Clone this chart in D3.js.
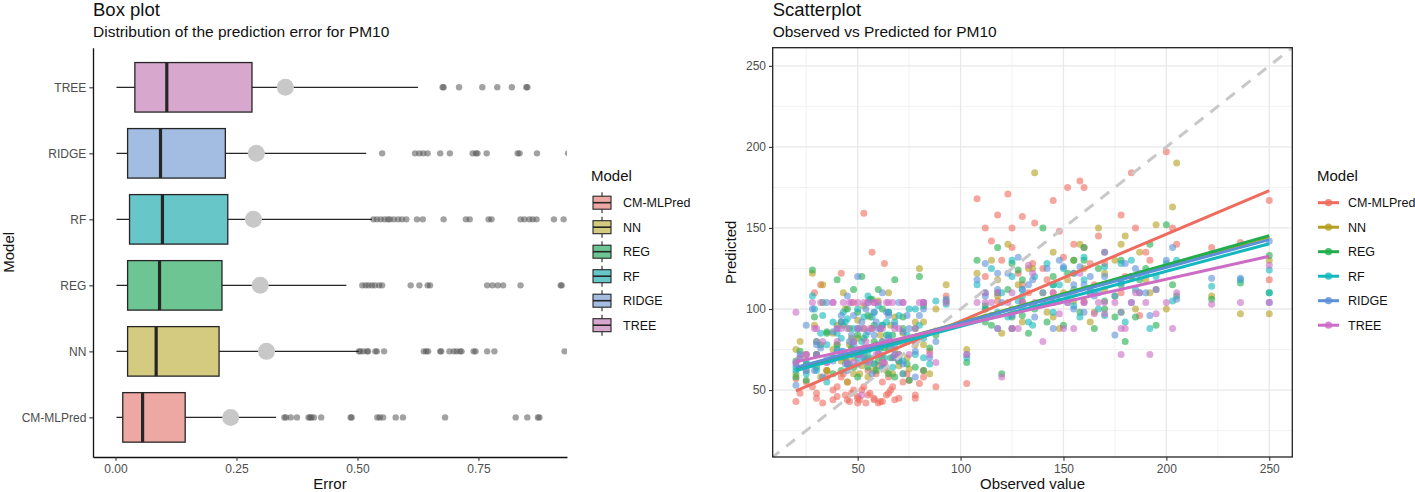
<!DOCTYPE html>
<html lang="en">
<head>
<meta charset="UTF-8">
<title>PM10 prediction error</title>
<script src="https://d3js.org/d3.v7.min.js"></script>
<style>
    body { margin: 0; background: #fff; }
    svg { display: block; font-family: "Liberation Sans", Arial, sans-serif; }
    .title { font-size: 18.5px; fill: #111; }
    .subtitle { font-size: 15.5px; fill: #111; }
    .axis-title { font-size: 15px; fill: #111; }
    .legend-title { font-size: 15px; fill: #111; }
    .legend-label { font-size: 12.5px; fill: #111; }
</style>
</head>
<body>
<div id="chart"></div>
<script>
// categories
const models = ["CM-MLPred", "NN", "REG", "RF", "RIDGE", "TREE"];
const boxColors = ["#EEA8A3", "#D4CB80", "#6DC593", "#66C6C8", "#A3BCE2", "#D8A7CD"];
const lineColors = ["#EE6B5E", "#B59F1E", "#1FAE4B", "#12B8BD", "#5B8FD8", "#CC6CC5"];

// box plot stats (error), same order as models
const errLow  = [0.002, 0.002, 0.002, 0.002, 0.002, 0.002];
const errQ1   = [0.015, 0.025, 0.025, 0.029, 0.025, 0.040];
const errMed  = [0.056, 0.084, 0.091, 0.097, 0.093, 0.106];
const errQ3   = [0.144, 0.214, 0.220, 0.232, 0.227, 0.282];
const errHigh = [0.332, 0.503, 0.477, 0.530, 0.518, 0.625];
const errMean = [0.238, 0.312, 0.299, 0.285, 0.291, 0.351];

// outliers
const outCM = [0.349, 0.352, 0.362, 0.375, 0.399, 0.402, 0.405, 0.410, 0.425, 0.486, 0.488, 0.541, 0.546, 0.553, 0.579, 0.594, 0.681, 0.827, 0.851, 0.873, 0.876];
const outNN = [0.503, 0.506, 0.512, 0.520, 0.522, 0.537, 0.540, 0.555, 0.637, 0.642, 0.646, 0.671, 0.673, 0.690, 0.699, 0.705, 0.712, 0.715, 0.740, 0.744, 0.768, 0.783, 0.928];
const outREG = [0.510, 0.517, 0.523, 0.530, 0.536, 0.545, 0.551, 0.610, 0.628, 0.645, 0.650, 0.768, 0.779, 0.790, 0.801, 0.837, 0.920, 0.922];
const outRF = [0.533, 0.540, 0.548, 0.556, 0.563, 0.567, 0.575, 0.584, 0.592, 0.601, 0.623, 0.635, 0.678, 0.724, 0.732, 0.771, 0.777, 0.837, 0.845, 0.855, 0.862, 0.870, 0.906, 0.926];
const outRIDGE = [0.551, 0.619, 0.628, 0.636, 0.645, 0.671, 0.691, 0.738, 0.745, 0.748, 0.767, 0.831, 0.835, 0.871, 0.935];
const outTREE = [0.676, 0.678, 0.710, 0.758, 0.789, 0.819, 0.849, 0.851];

const errorTicks = [0, 0.25, 0.5, 0.75];

// scatter: observed value and predictions per model
const observed = [20, 20, 22, 25, 28, 29, 30, 32, 33, 35, 38, 40, 42, 43, 45, 45, 47, 48, 50, 50,
    52, 53, 55, 55, 57, 58, 60, 60, 62, 63, 65, 65, 67, 68, 70, 72, 75, 78, 80, 82,
    85, 88, 93, 103, 108, 112, 115, 118, 120, 123, 125, 128, 130, 133, 136, 140, 142, 145, 148, 152,
    155, 158, 160, 163, 167, 170, 175, 178, 180, 183, 187, 192, 195, 200, 203, 205, 222, 236, 250, 250,
    25, 30, 35, 38, 40, 42, 44, 46, 48, 50, 51, 53, 54, 56, 58, 59, 61, 62, 64, 66,
    68, 70, 72, 74, 78, 82, 112, 118, 125, 130, 135, 145, 150, 155, 160, 165, 170, 178, 185, 190];
const predCM = [43, 57, 48, 62, 52, 110, 45, 115, 42, 58, 50, 46, 122, 60, 55, 44, 48, 104, 45, 42,
    50, 159, 47, 62, 135, 44, 42, 65, 43, 128, 48, 58, 52, 70, 45, 60, 56, 47, 54, 62,
    74, 52, 108, 54, 168, 150, 142, 158, 130, 171, 138, 122, 157, 110, 153, 125, 118, 167, 148, 175,
    140, 179, 175, 128, 145, 135, 108, 158, 120, 184, 96, 130, 112, 197, 150, 140, 138, 141, 167, 118,
    55, 48, 62, 44, 52, 58, 47, 43, 50, 46, 44, 52, 42, 48, 45, 60, 43, 55, 47, 50,
    44, 68, 55, 60, 45, 58, 120, 105, 150, 115, 128, 110, 132, 122, 138, 115, 128, 110, 150, 135];
const predNN = [60, 75, 80, 65, 122, 90, 72, 58, 115, 62, 85, 78, 70, 110, 55, 68, 82, 60, 75, 93,
    65, 102, 70, 58, 88, 62, 72, 105, 80, 66, 110, 76, 60, 95, 68, 85, 63, 78, 125, 92,
    60, 100, 115, 75, 122, 95, 130, 108, 85, 140, 100, 115, 92, 125, 184, 110, 98, 135, 88, 118,
    105, 140, 125, 92, 150, 112, 130, 98, 145, 120, 135, 110, 152, 100, 163, 190, 108, 97, 130, 97,
    72, 80, 62, 75, 90, 68, 100, 78, 70, 82, 60, 88, 76, 95, 66, 78, 84, 70, 62, 90,
    75, 65, 80, 70, 92, 78, 100, 118, 88, 105, 125, 95, 110, 130, 105, 98, 122, 140, 100, 118];
const predREG = [58, 68, 74, 56, 124, 95, 64, 78, 104, 86, 70, 118, 62, 90, 100, 66, 76, 112, 58, 84,
    120, 72, 96, 64, 106, 80, 112, 68, 90, 76, 98, 60, 84, 118, 72, 88, 56, 64, 120, 102,
    76, 84, 105, 67, 130, 102, 90, 138, 60, 112, 95, 124, 118, 85, 100, 150, 92, 115, 105, 122,
    130, 98, 138, 110, 125, 100, 95, 130, 80, 120, 118, 140, 90, 152, 115, 108, 106, 116, 133, 110,
    66, 72, 85, 60, 78, 92, 70, 88, 64, 98, 74, 82, 68, 106, 90, 62, 76, 100, 84, 70,
    58, 80, 95, 66, 88, 62, 92, 110, 128, 96, 102, 120, 90, 112, 130, 88, 105, 115, 95, 125];
const predRF = [64, 62, 70, 60, 108, 100, 72, 85, 96, 55, 92, 75, 82, 98, 66, 94, 72, 88, 70, 100,
    80, 68, 108, 74, 95, 66, 102, 78, 90, 70, 98, 84, 64, 92, 68, 60, 100, 72, 90, 82,
    66, 105, 103, 70, 115, 100, 125, 88, 110, 95, 130, 105, 112, 92, 120, 104, 128, 98, 115, 108,
    122, 95, 132, 112, 100, 126, 108, 118, 92, 130, 110, 88, 120, 128, 105, 130, 114, 118, 124, 110,
    68, 62, 78, 70, 85, 74, 92, 66, 80, 88, 72, 95, 84, 70, 98, 76, 88, 64, 92, 80,
    72, 96, 68, 84, 100, 70, 110, 98, 120, 108, 90, 115, 125, 102, 118, 110, 96, 128, 112, 122];
const predRIDGE = [53, 66, 72, 90, 100, 62, 80, 76, 58, 104, 68, 88, 96, 74, 108, 62, 84, 78, 120, 66,
    92, 70, 86, 104, 60, 98, 76, 88, 110, 64, 82, 96, 70, 78, 104, 66, 88, 58, 96, 104,
    70, 80, 106, 72, 118, 128, 96, 112, 104, 122, 88, 132, 100, 115, 95, 110, 125, 88, 130, 104,
    115, 126, 98, 120, 110, 135, 84, 116, 128, 104, 122, 96, 112, 130, 138, 106, 119, 119, 142, 104,
    62, 78, 70, 86, 74, 92, 66, 80, 96, 72, 88, 76, 100, 68, 84, 92, 72, 80, 98, 76,
    90, 70, 86, 96, 74, 100, 108, 122, 96, 112, 118, 104, 126, 100, 115, 108, 120, 98, 125, 110];
const predTREE = [98, 67, 70, 72, 104, 88, 72, 104, 80, 67, 104, 88, 72, 104, 67, 88, 104, 80, 72, 104,
    47, 88, 104, 67, 88, 104, 72, 104, 88, 67, 104, 80, 104, 72, 88, 104, 72, 80, 104, 104,
    72, 67, 104, 72, 104, 110, 104, 88, 58, 104, 110, 88, 104, 127, 104, 80, 104, 110, 97, 104,
    88, 122, 104, 110, 104, 97, 104, 72, 88, 104, 110, 72, 97, 104, 88, 110, 103, 104, 127, 104,
    72, 88, 67, 104, 80, 88, 72, 104, 67, 88, 72, 104, 80, 88, 104, 72, 88, 67, 104, 80,
    88, 72, 104, 80, 88, 104, 104, 110, 88, 104, 122, 104, 88, 110, 104, 97, 104, 88, 110, 104];
const predictions = [predCM, predNN, predREG, predRF, predRIDGE, predTREE];

// fitted lm lines read at the ends of the observed range
const fitX = [20, 250];
const fitStart = [49.5, 63.5, 62.5, 62.0, 64.0, 67.4];
const fitEnd = [173.0, 144.5, 145.3, 140.3, 142.8, 132.5];

const scatterTicks = [50, 100, 150, 200, 250];
const minorTicks = [25, 75, 125, 175, 225];

const svg = d3.select("#chart")
  .append("svg")
    .attr("width", 1415)
    .attr("height", 492);

svg.append("rect").attr("width", 1415).attr("height", 492).attr("fill", "#fff");

function styleAxis(g) {
    g.attr("font-family", null).attr("font-size", null);
    g.selectAll(".tick line").attr("stroke", "#333").attr("stroke-width", 1.1);
    g.selectAll(".tick text").attr("fill", "#4d4d4d").style("font-size", "12px");
}

// ================= box plot =================
const bp = { left: 93, right: 567, top: 47.7, bottom: 457 };

const x1 = d3.scaleLinear()
    .domain([-0.0465, 0.933])
    .range([bp.left, bp.right]);
const y1 = d3.scalePoint()
    .domain(models.slice().reverse())
    .range([bp.top, bp.bottom])
    .padding(0.6);
const boxH = y1.step() * 0.75;

svg.append("clipPath").attr("id", "clip-box")
  .append("rect")
    .attr("x", bp.left).attr("y", bp.top)
    .attr("width", bp.right - bp.left).attr("height", bp.bottom - bp.top);

const boxG = svg.append("g").attr("clip-path", "url(#clip-box)");
const outliers = [outCM, outNN, outREG, outRF, outRIDGE, outTREE];

models.forEach((m, i) => {
    const cy = y1(m);
    boxG.selectAll(null)
        .data(outliers[i])
        .enter()
        .append("circle")
        .attr("cx", d => x1(d))
        .attr("cy", cy)
        .attr("r", 3.2)
        .attr("fill", "#555")
        .attr("fill-opacity", 0.55);

    // whisker
    boxG.append("line")
        .attr("x1", x1(errLow[i])).attr("x2", x1(errHigh[i]))
        .attr("y1", cy).attr("y2", cy)
        .attr("stroke", "#262626").attr("stroke-width", 1.3);

    boxG.append("rect")
        .attr("x", x1(errQ1[i]))
        .attr("y", cy - boxH / 2)
        .attr("width", x1(errQ3[i]) - x1(errQ1[i]))
        .attr("height", boxH)
        .attr("fill", boxColors[i])
        .attr("stroke", "#262626")
        .attr("stroke-width", 1.3);

    boxG.append("line")
        .attr("x1", x1(errMed[i])).attr("x2", x1(errMed[i]))
        .attr("y1", cy - boxH / 2).attr("y2", cy + boxH / 2)
        .attr("stroke", "#262626").attr("stroke-width", 3.2);

    // mean
    boxG.append("circle")
        .attr("cx", x1(errMean[i]))
        .attr("cy", cy)
        .attr("r", 8.5)
        .attr("fill", "#c8c8c8");
});

svg.append("g")
    .attr("transform", `translate(0,${bp.bottom})`)
    .call(d3.axisBottom(x1).tickValues(errorTicks).tickFormat(d3.format(".2f"))
        .tickSize(3.7).tickSizeOuter(0).tickPadding(4))
    .call(g => g.select(".domain").attr("stroke", "#111").attr("stroke-width", 1.3))
    .call(styleAxis);

svg.append("g")
    .attr("transform", `translate(${bp.left},0)`)
    .call(d3.axisLeft(y1).tickSize(3.7).tickSizeOuter(0).tickPadding(3))
    .call(g => g.select(".domain").attr("stroke", "#111").attr("stroke-width", 1.3))
    .call(styleAxis);

svg.append("text").attr("class", "title").attr("x", bp.left).attr("y", 16).text("Box plot");
svg.append("text").attr("class", "subtitle").attr("x", bp.left).attr("y", 37)
    .text("Distribution of the prediction error for PM10");
svg.append("text").attr("class", "axis-title")
    .attr("x", (bp.left + bp.right) / 2).attr("y", 489)
    .attr("text-anchor", "middle").text("Error");
svg.append("text").attr("class", "axis-title")
    .attr("transform", `translate(14,${(bp.top + bp.bottom) / 2}) rotate(-90)`)
    .attr("text-anchor", "middle").text("Model");

// box legend
const lg1 = svg.append("g").attr("transform", "translate(591,0)");
lg1.append("text").attr("class", "legend-title").attr("x", 0).attr("y", 181).text("Model");
models.forEach((m, i) => {
    const cy = 202.7 + i * 24.5;
    lg1.append("line")
        .attr("x1", 11).attr("x2", 11)
        .attr("y1", cy - 10.5).attr("y2", cy + 10.5)
        .attr("stroke", "#262626").attr("stroke-width", 1.1);
    lg1.append("rect")
        .attr("x", 2).attr("y", cy - 6.5)
        .attr("width", 18).attr("height", 13)
        .attr("fill", boxColors[i]).attr("stroke", "#262626").attr("stroke-width", 1.1);
    lg1.append("line")
        .attr("x1", 2).attr("x2", 20)
        .attr("y1", cy).attr("y2", cy)
        .attr("stroke", "#262626").attr("stroke-width", 1.6);
    lg1.append("text").attr("class", "legend-label")
        .attr("x", 32).attr("y", cy).attr("dy", "0.35em").text(m);
});

// ================= scatterplot =================
const sp = { left: 772.7, right: 1292.3, top: 47.7, bottom: 457 };

const x2 = d3.scaleLinear().domain([8.7, 261.2]).range([sp.left, sp.right]);
const y2 = d3.scaleLinear().domain([8.7, 261.2]).range([sp.bottom, sp.top]);

svg.append("clipPath").attr("id", "clip-sc")
  .append("rect")
    .attr("x", sp.left).attr("y", sp.top)
    .attr("width", sp.right - sp.left).attr("height", sp.bottom - sp.top);

const scG = svg.append("g").attr("clip-path", "url(#clip-sc)");

// grid lines
scG.selectAll(".minor-x").data(minorTicks).enter().append("line")
    .attr("x1", d => x2(d)).attr("x2", d => x2(d))
    .attr("y1", sp.top).attr("y2", sp.bottom)
    .attr("stroke", "#ececec").attr("stroke-width", 0.7);
scG.selectAll(".minor-y").data(minorTicks).enter().append("line")
    .attr("x1", sp.left).attr("x2", sp.right)
    .attr("y1", d => y2(d)).attr("y2", d => y2(d))
    .attr("stroke", "#ececec").attr("stroke-width", 0.7);
scG.selectAll(".major-x").data(scatterTicks).enter().append("line")
    .attr("x1", d => x2(d)).attr("x2", d => x2(d))
    .attr("y1", sp.top).attr("y2", sp.bottom)
    .attr("stroke", "#e8e8e8").attr("stroke-width", 1.3);
scG.selectAll(".major-y").data(scatterTicks).enter().append("line")
    .attr("x1", sp.left).attr("x2", sp.right)
    .attr("y1", d => y2(d)).attr("y2", d => y2(d))
    .attr("stroke", "#e8e8e8").attr("stroke-width", 1.3);

// points
models.forEach((m, i) => {
    scG.selectAll(null)
        .data(observed.map((o, j) => [o, predictions[i][j]]))
        .enter()
        .append("circle")
        .attr("cx", d => x2(d[0]))
        .attr("cy", d => y2(d[1]))
        .attr("r", 3.5)
        .attr("fill", lineColors[i])
        .attr("fill-opacity", 0.6);
});

// identity line
scG.append("line")
    .attr("x1", x2(0)).attr("y1", y2(0))
    .attr("x2", x2(270)).attr("y2", y2(270))
    .attr("stroke", "#c8c8c8")
    .attr("stroke-width", 3)
    .attr("stroke-dasharray", "11,9");

// fitted lines
models.forEach((m, i) => {
    scG.append("line")
        .attr("x1", x2(fitX[0])).attr("y1", y2(fitStart[i]))
        .attr("x2", x2(fitX[1])).attr("y2", y2(fitEnd[i]))
        .attr("stroke", lineColors[i])
        .attr("stroke-width", 3);
});

svg.append("rect")
    .attr("x", sp.left).attr("y", sp.top)
    .attr("width", sp.right - sp.left).attr("height", sp.bottom - sp.top)
    .attr("fill", "none").attr("stroke", "#222").attr("stroke-width", 1.3);

svg.append("g")
    .attr("transform", `translate(0,${sp.bottom})`)
    .call(d3.axisBottom(x2).tickValues(scatterTicks).tickSize(3.7).tickSizeOuter(0).tickPadding(4))
    .call(g => g.select(".domain").remove())
    .call(styleAxis);

svg.append("g")
    .attr("transform", `translate(${sp.left},0)`)
    .call(d3.axisLeft(y2).tickValues(scatterTicks).tickSize(3.7).tickSizeOuter(0).tickPadding(3))
    .call(g => g.select(".domain").remove())
    .call(styleAxis);

svg.append("text").attr("class", "title").attr("x", sp.left).attr("y", 16).text("Scatterplot");
svg.append("text").attr("class", "subtitle").attr("x", sp.left).attr("y", 37)
    .text("Observed vs Predicted for PM10");
svg.append("text").attr("class", "axis-title")
    .attr("x", (sp.left + sp.right) / 2).attr("y", 489)
    .attr("text-anchor", "middle").text("Observed value");
svg.append("text").attr("class", "axis-title")
    .attr("transform", `translate(736,${(sp.top + sp.bottom) / 2}) rotate(-90)`)
    .attr("text-anchor", "middle").text("Predicted");

// scatter legend
const lg2 = svg.append("g").attr("transform", "translate(1317,0)");
lg2.append("text").attr("class", "legend-title").attr("x", 0).attr("y", 181).text("Model");
models.forEach((m, i) => {
    const cy = 202.7 + i * 24.5;
    lg2.append("line")
        .attr("x1", 1).attr("x2", 22)
        .attr("y1", cy).attr("y2", cy)
        .attr("stroke", lineColors[i]).attr("stroke-width", 3);
    lg2.append("circle")
        .attr("cx", 11.5).attr("cy", cy).attr("r", 3.6)
        .attr("fill", lineColors[i]).attr("fill-opacity", 0.8);
    lg2.append("text").attr("class", "legend-label")
        .attr("x", 31).attr("y", cy).attr("dy", "0.35em").text(m);
});
</script>
</body>
</html>
